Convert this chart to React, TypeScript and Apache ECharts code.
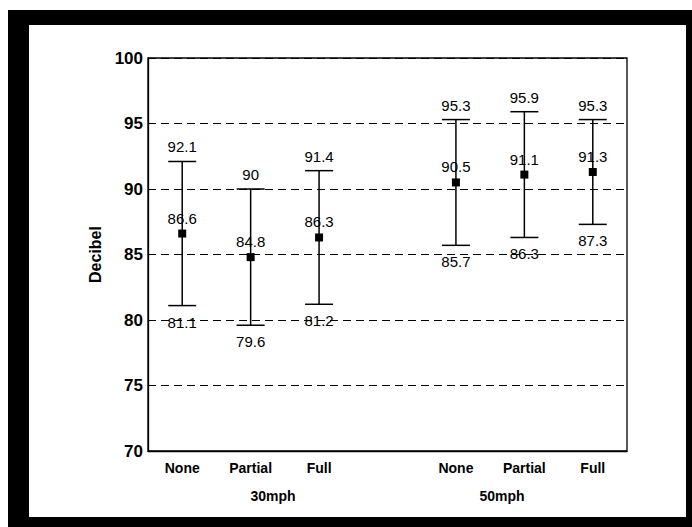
import React, { useEffect, useRef } from "react";
import * as echarts from "echarts";

const categories = ["None", "Partial", "Full", "", "None", "Partial", "Full"];
const groupLabels = ["30mph", "50mph"];
const means = [86.6, 84.8, 86.3, null, 90.5, 91.1, 91.3];
const upper = [92.1, 90, 91.4, null, 95.3, 95.9, 95.3];
const lower = [81.1, 79.6, 81.2, null, 85.7, 86.3, 87.3];
const yTicks = { min: 70, max: 100, interval: 5 };

const FONT = "'Liberation Sans', Arial, Helvetica, sans-serif";

export default function App() {
  const ref = useRef<HTMLDivElement>(null);
  useEffect(() => {
    document.body.style.margin = "0";
    if (!ref.current) return;
    const chart = echarts.init(ref.current, null, { renderer: "svg" });

    const barData: any[] = [];
    const meanData: any[] = [];
    categories.forEach((_, i) => {
      if (means[i] == null) return;
      barData.push([i, lower[i], upper[i]]);
      meanData.push([i, means[i]]);
    });

    chart.setOption({
      animation: false,
      backgroundColor: "#ffffff",
      textStyle: { fontFamily: FONT },
      graphic: [
        {
          type: "rect",
          z: -10,
          silent: true,
          shape: { x: 8, y: 10, width: 684, height: 517 },
          style: { fill: "#000" },
        },
        {
          type: "rect",
          z: -9,
          silent: true,
          shape: { x: 29, y: 25, width: 657, height: 492 },
          style: { fill: "#fff" },
        },
        {
          type: "text",
          x: 273,
          y: 496,
          style: {
            text: groupLabels[0],
            font: `bold 14px ${FONT}`,
            fill: "#000",
            align: "center",
            verticalAlign: "middle",
          },
        },
        {
          type: "text",
          x: 502,
          y: 496,
          style: {
            text: groupLabels[1],
            font: `bold 14px ${FONT}`,
            fill: "#000",
            align: "center",
            verticalAlign: "middle",
          },
        },
      ],
      grid: {
        left: 148,
        top: 58,
        right: 65,
        bottom: 76,
        show: true,
        borderColor: "#000",
        borderWidth: 1.3,
        backgroundColor: "transparent",
      },
      xAxis: {
        type: "category",
        data: categories,
        boundaryGap: true,
        axisLine: { show: true, lineStyle: { color: "#000", width: 1.3 } },
        axisTick: { show: false },
        axisLabel: {
          color: "#000",
          fontSize: 14,
          fontWeight: "bold",
          fontFamily: FONT,
          margin: 10,
          interval: 0,
        },
        splitLine: { show: false },
      },
      yAxis: {
        type: "value",
        min: yTicks.min,
        max: yTicks.max,
        interval: yTicks.interval,
        name: "Decibel",
        nameLocation: "middle",
        nameGap: 44,
        nameTextStyle: {
          color: "#000",
          fontSize: 16,
          fontWeight: "bold",
          fontFamily: FONT,
        },
        axisLine: { show: true, lineStyle: { color: "#000", width: 1.3 } },
        axisTick: { show: false },
        axisLabel: {
          color: "#000",
          fontSize: 17,
          fontWeight: "bold",
          fontFamily: FONT,
          margin: 5,
        },
        splitLine: {
          show: true,
          lineStyle: { color: "#000", type: [8, 5], width: 1 },
        },
      },
      series: [
        {
          type: "custom",
          data: barData,
          z: 3,
          renderItem: (params: any, api: any) => {
            const x = api.value(0);
            const lo = api.value(1);
            const hi = api.value(2);
            const pHi = api.coord([x, hi]);
            const pLo = api.coord([x, lo]);
            const hw = 14;
            const ls = { stroke: "#000", lineWidth: 1.5 };
            return {
              type: "group",
              children: [
                { type: "line", shape: { x1: pHi[0], y1: pHi[1], x2: pLo[0], y2: pLo[1] }, style: ls },
                { type: "line", shape: { x1: pHi[0] - hw, y1: pHi[1], x2: pHi[0] + hw, y2: pHi[1] }, style: ls },
                { type: "line", shape: { x1: pLo[0] - hw, y1: pLo[1], x2: pLo[0] + hw, y2: pLo[1] }, style: ls },
                {
                  type: "text",
                  x: pHi[0],
                  y: pHi[1] - 7,
                  style: {
                    text: String(hi),
                    font: `15px ${FONT}`,
                    fill: "#000",
                    align: "center",
                    verticalAlign: "bottom",
                  },
                },
                {
                  type: "text",
                  x: pLo[0],
                  y: pLo[1] + 9,
                  style: {
                    text: String(lo),
                    font: `15px ${FONT}`,
                    fill: "#000",
                    align: "center",
                    verticalAlign: "top",
                  },
                },
              ],
            };
          },
        },
        {
          type: "scatter",
          data: meanData,
          symbol: "rect",
          symbolSize: 8,
          z: 4,
          itemStyle: { color: "#000", opacity: 1 },
          label: {
            show: true,
            position: "top",
            distance: 4,
            color: "#000",
            opacity: 1,
            fontSize: 15,
            fontFamily: FONT,
            formatter: (p: any) => String(p.value[1]),
          },
        },
      ],
    });
    return () => chart.dispose();
  }, []);
  return <div ref={ref} style={{ width: 692, height: 527 }} />;
}
